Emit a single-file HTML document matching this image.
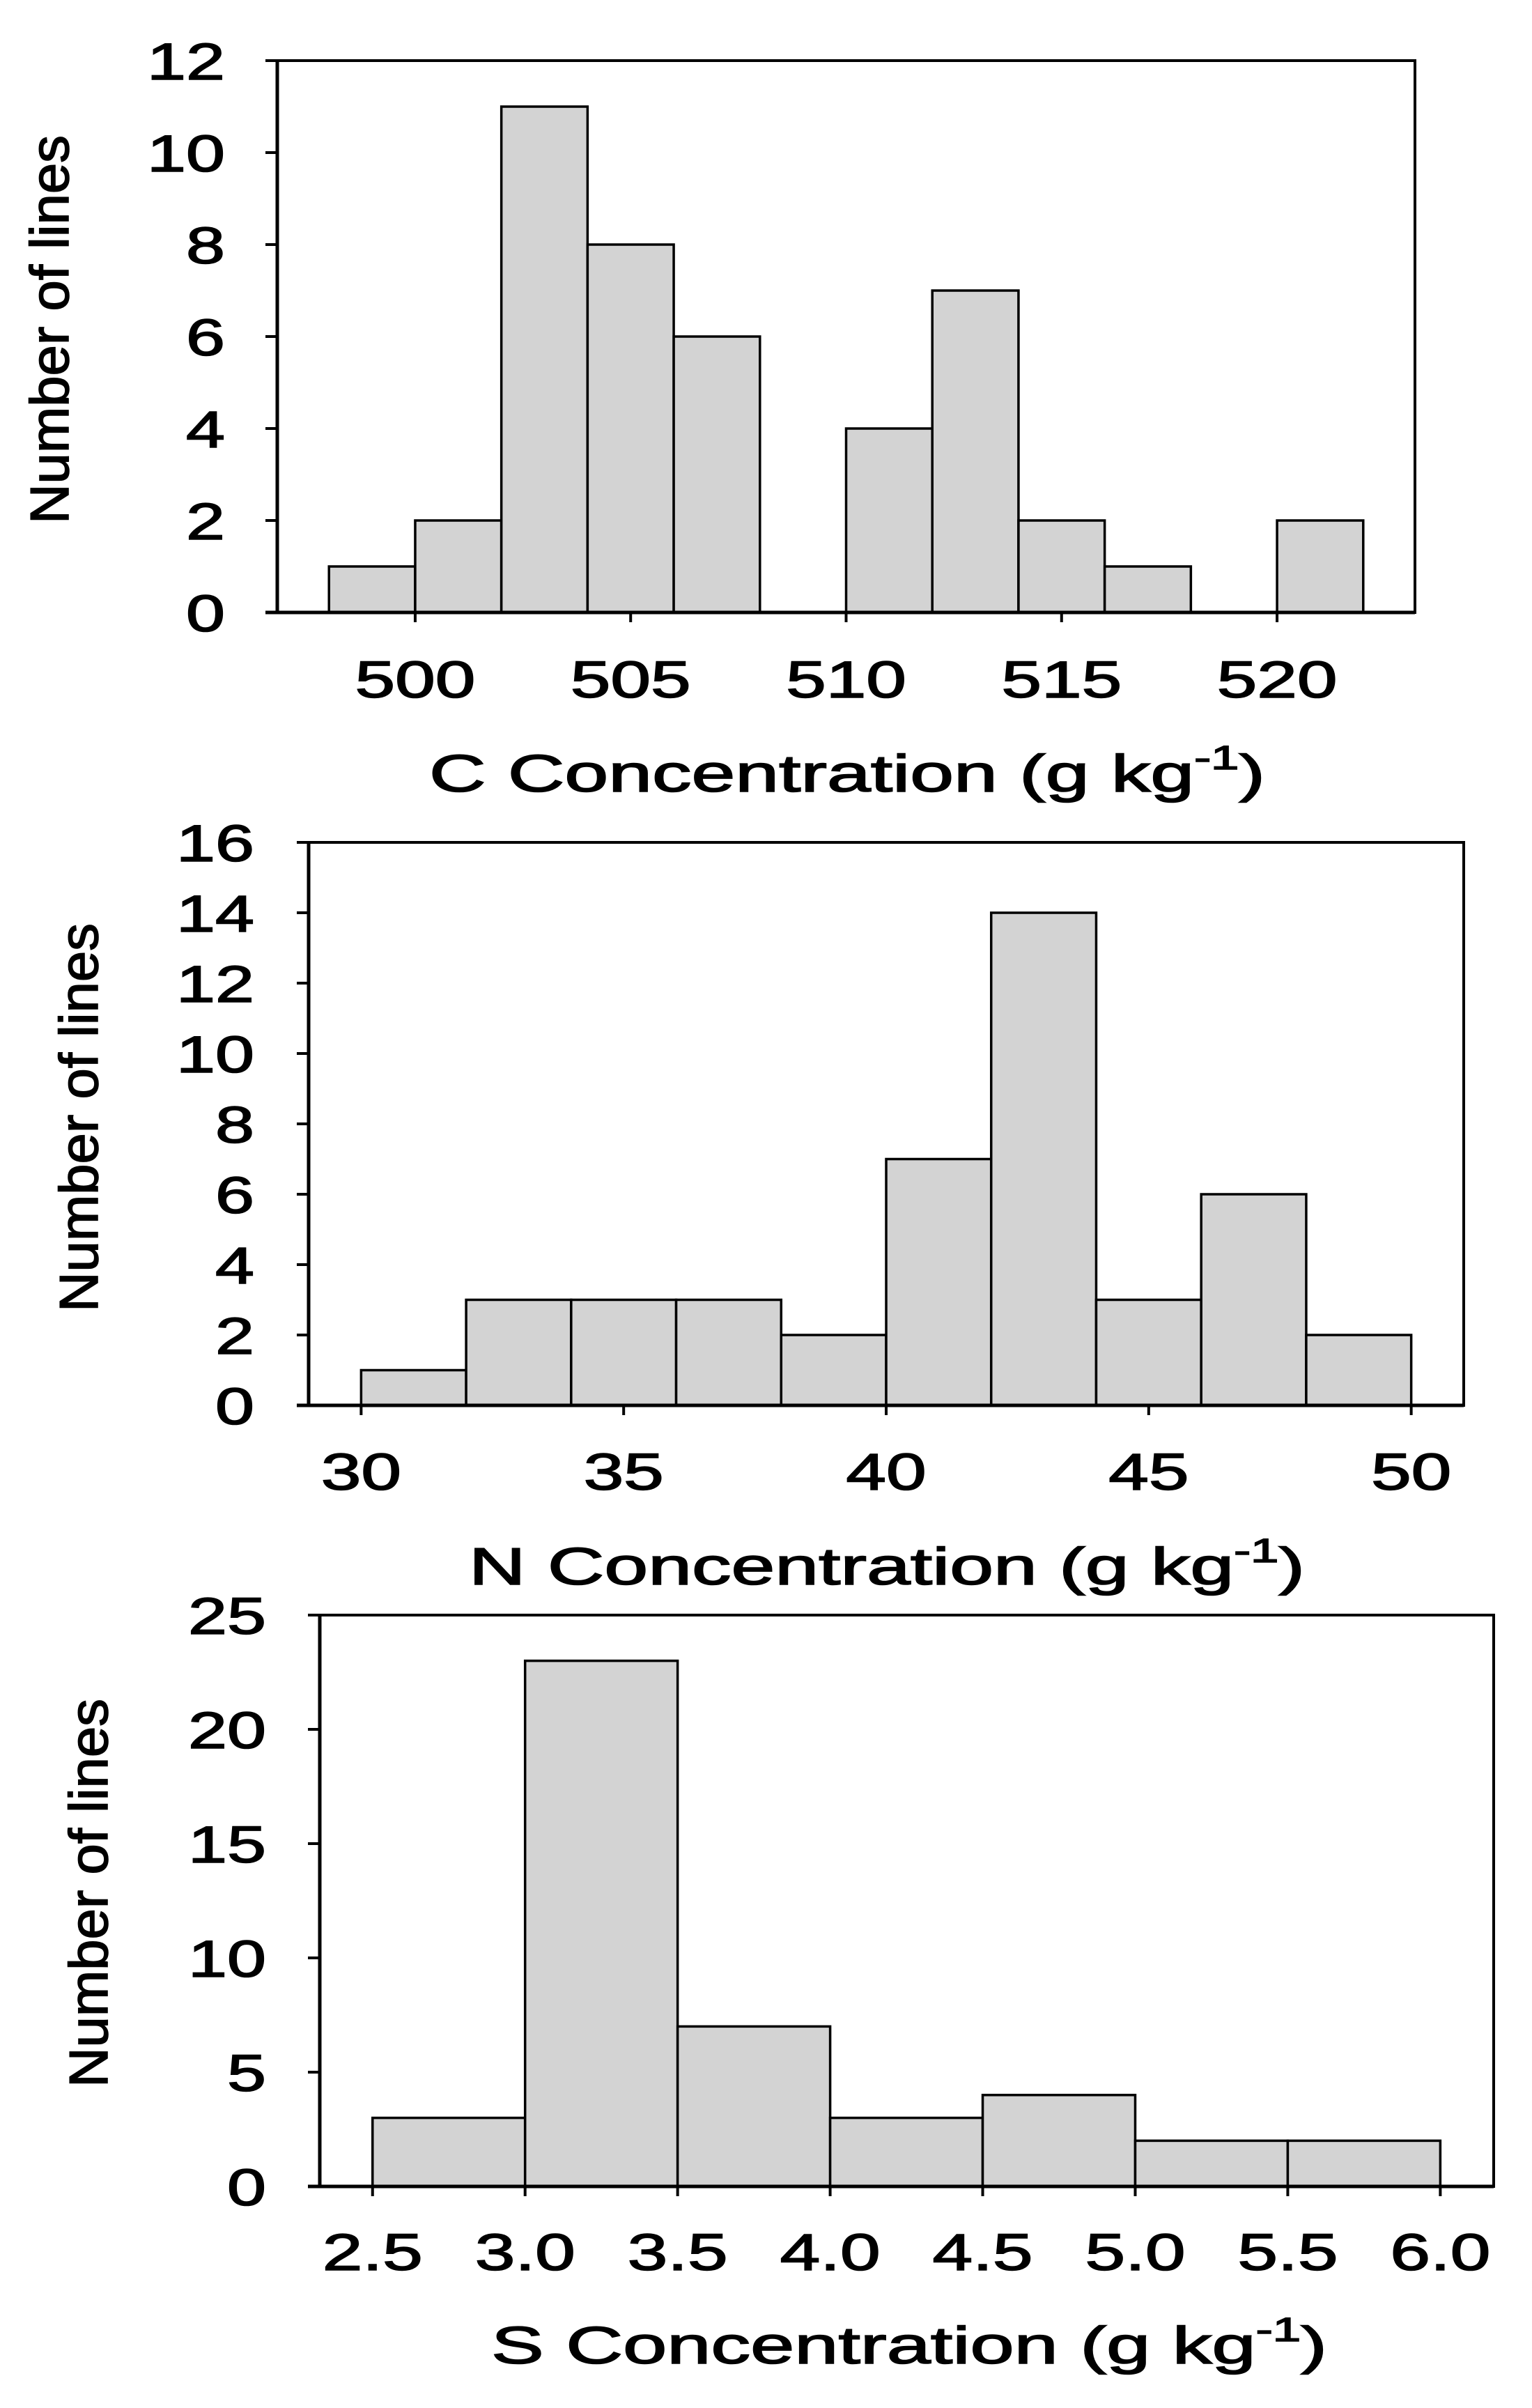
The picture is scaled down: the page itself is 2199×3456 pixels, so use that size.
<!DOCTYPE html>
<html><head><meta charset="utf-8"><style>
html,body{margin:0;padding:0;background:#fff;}
svg{display:block;}
text{font-family:"Liberation Sans",Arial,sans-serif;fill:#000;stroke:#000;stroke-width:1.6;}
</style></head><body>
<svg id="chart" width="2199" height="3456" viewBox="0 0 2199 3456" xmlns="http://www.w3.org/2000/svg"></svg>
<script>
// Panel C data
const cBinStarts = [498,500,502,504,506,508,510,512,514,516,518,520];
const cCounts    = [1,2,11,8,6,0,4,7,2,1,0,2];
const cXTicks    = [500,505,510,515,520];
const cYTicks    = [0,2,4,6,8,10,12];
// Panel N data
const nBinStarts = [30,32,34,36,38,40,42,44,46,48];
const nCounts    = [1,3,3,3,2,7,14,3,6,2];
const nXTicks    = [30,35,40,45,50];
const nYTicks    = [0,2,4,6,8,10,12,14,16];
// Panel S data
const sBinStarts = [2.5,3.0,3.5,4.0,4.5,5.0,5.5];
const sCounts    = [3,23,7,3,4,2,2];
const sXTicks    = [2.5,3.0,3.5,4.0,4.5,5.0,5.5,6.0];
const sXTickLabels = ["2.5","3.0","3.5","4.0","4.5","5.0","5.5","6.0"];
const sYTicks    = [0,5,10,15,20,25];

const NS="http://www.w3.org/2000/svg";
const svg=document.getElementById('chart');
function mk(tag,attrs,parent){const e=document.createElementNS(NS,tag);for(const k in attrs)e.setAttribute(k,attrs[k]);(parent||svg).appendChild(e);return e;}

const panels=[
 {id:'c',starts:cBinStarts,counts:cCounts,bw:2,xt:cXTicks,xl:cXTicks.map(String),yt:cYTicks,
  L:398,R:2031,T:87,B:879,xmin:496.8,xmax:523.2,ymax:12,ylabR:323,xlabY:1001,ytitleX:98,ytitleY:473,
  title:'C Concentration (g kg',tx:616,ty:1136},
 {id:'n',starts:nBinStarts,counts:nCounts,bw:2,xt:nXTicks,xl:nXTicks.map(String),yt:nYTicks,
  L:443,R:2101,T:1209,B:2017,xmin:29.0,xmax:51.0,ymax:16,ylabR:365,xlabY:2138,ytitleX:140,ytitleY:1604,
  title:'N Concentration (g kg',tx:673,ty:2274},
 {id:'s',starts:sBinStarts,counts:sCounts,bw:0.5,xt:sXTicks,xl:sXTickLabels,yt:sYTicks,
  L:459,R:2144,T:2318,B:3138,xmin:2.327,xmax:6.175,ymax:25,ylabR:382,xlabY:3258,ytitleX:154,ytitleY:2717,
  title:'S Concentration (g kg',tx:705,ty:3392}
];

panels.forEach(p=>{
  const g=mk('g',{});
  
  
  const xs=v=>p.L+(v-p.xmin)/(p.xmax-p.xmin)*(p.R-p.L);
  const ys=v=>p.B-v/p.ymax*(p.B-p.T);
  p.starts.forEach((s,i)=>{
    if(p.counts[i]<=0) return;
    const x0=xs(s),x1=xs(s+p.bw),y=ys(p.counts[i]);
    const r=mk('rect',{x:x0,y:y,width:x1-x0,height:p.B-y,fill:'#d3d3d3',stroke:'#000','stroke-width':3.5},g);
    
    
  });
  const f=mk('rect',{x:p.L,y:p.T,width:p.R-p.L,height:p.B-p.T,fill:'none',stroke:'#000','stroke-width':4},g);
  
  
  const ax=mk('line',{x1:p.L,y1:p.T,x2:p.L,y2:p.B,stroke:'#000','stroke-width':5},g);
  
  
  const bx=mk('line',{x1:p.L-17,y1:p.B,x2:p.R,y2:p.B,stroke:'#000','stroke-width':5},g);
  
  
  p.yt.forEach(v=>{
    const y=ys(v);
    const t=mk('line',{x1:p.L-17,y1:y,x2:p.L,y2:y,stroke:'#000','stroke-width':4},g);
    
    
    const l=mk('text',{transform:`translate(${p.ylabR},${y+27}) scale(1.36,1)`,'text-anchor':'end','font-size':74},g);
    l.textContent=String(v);
    
    
  });
  p.xt.forEach((v,i)=>{
    const x=xs(v);
    const t=mk('line',{x1:x,y1:p.B,x2:x,y2:p.B+14,stroke:'#000','stroke-width':4},g);
    
    
    const l=mk('text',{transform:`translate(${x},${p.xlabY}) scale(1.4,1)`,'text-anchor':'middle','font-size':74},g);
    l.textContent=p.xl[i];
    
    
  });
  const yt=mk('text',{transform:`translate(${p.ytitleX},${p.ytitleY}) rotate(-90)`,'text-anchor':'middle','font-size':78,textLength:558,lengthAdjust:'spacingAndGlyphs','stroke-width':3},g);
  yt.textContent='Number of lines';
  
  
  const xt=mk('text',{x:p.tx,y:p.ty,'font-size':75,textLength:1200,lengthAdjust:'spacingAndGlyphs'},g);
  
  
  const t1=mk('tspan',{},xt);t1.textContent=p.title;
  const t2=mk('tspan',{dy:-32,'font-size':48},xt);t2.textContent='-1';
  const t3=mk('tspan',{dy:32},xt);t3.textContent=')';
});
</script>
</body></html>
